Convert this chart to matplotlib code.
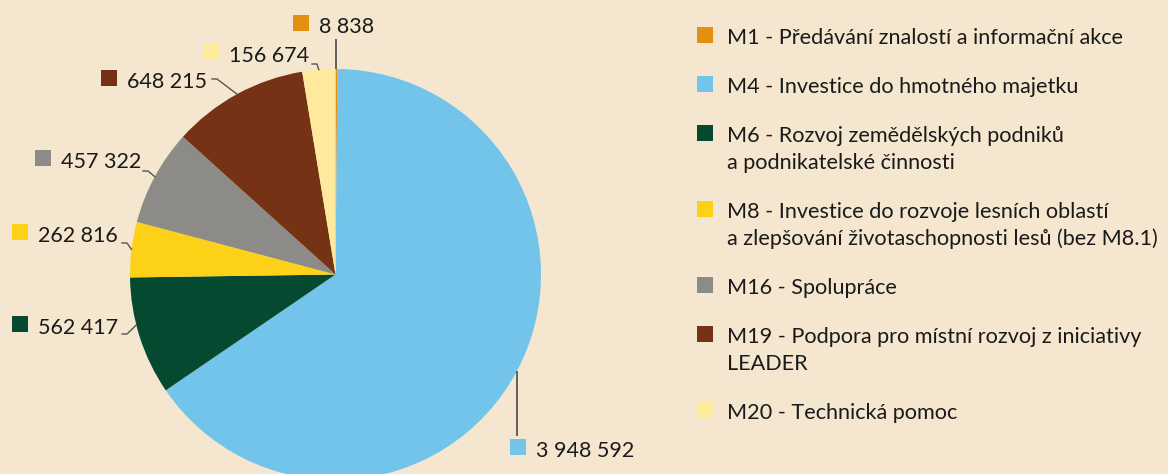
import numpy as np
import matplotlib
matplotlib.use('Agg')
import matplotlib.pyplot as plt
from matplotlib.patches import Rectangle

# data, clockwise from 12 o'clock
codes = ['M1', 'M4', 'M6', 'M8', 'M16', 'M19', 'M20']
names = [
    'Předávání znalostí a informační akce',
    'Investice do hmotného majetku',
    'Rozvoj zemědělských podniků\na podnikatelské činnosti',
    'Investice do rozvoje lesních oblastí\na zlepšování životaschopnosti lesů (bez M8.1)',
    'Spolupráce',
    'Podpora pro místní rozvoj z iniciativy\nLEADER',
    'Technická pomoc',
]
values = [8838, 3948592, 562417, 262816, 457322, 648215, 156674]
colors = ['#E68E0F', '#72C4EA', '#054A30', '#FDD118', '#8C8B87', '#763214', '#FFE99C']

W, H = 1168, 474
BG = '#F5E7CF'
TXT = '#1a1a1a'
LINE = '#555555'

def py(y):
    # pixel row from top -> data y (up)
    return H - y

fig = plt.figure(figsize=(W / 100, H / 100), dpi=100, facecolor=BG)
ax = fig.add_axes([0, 0, 1, 1])
ax.set_facecolor(BG)

cx, cy, r = 335.5, 274.5, 205.5
wedges, _ = ax.pie(values, colors=colors, startangle=90, counterclock=False,
                   center=(cx, py(cy)), radius=r,
                   wedgeprops=dict(linewidth=0))
ax.set_xlim(0, W)
ax.set_ylim(0, H)
ax.set_aspect('equal')
ax.axis('off')

# value labels: square left x, text baseline (px from top)
label_pos = [(293, 33), (510, 457), (12, 334), (12, 241.5), (35, 168), (101, 88), (203, 62)]
# leader lines: ('v', y end) vertical, ('e', x, y) elbow start
leaders = [('v', 39), ('v', 436), ('e', 122, 334), ('e', 122, 243),
           ('e', 143, 171), ('e', 212, 79), ('e', 312, 64)]
anchor_frac = [0.5, 0.5, 0.4, 0.5, 0.5, 0.5, 0.5]

sq = 16
for i, w in enumerate(wedges):
    ang = np.deg2rad(w.theta1 + anchor_frac[i] * (w.theta2 - w.theta1))
    ex = cx + r * np.cos(ang)
    ey = py(cy) + r * np.sin(ang)
    ld = leaders[i]
    if ld[0] == 'v':
        ax.plot([ex, ex], [ey, py(ld[1])], color=LINE, lw=1.3, solid_capstyle='butt')
    else:
        x0, y0 = ld[1], py(ld[2])
        ax.plot([x0, x0 + 5, ex], [y0, y0, ey], color=LINE, lw=1.0)

    x, base = label_pos[i]
    ax.add_patch(Rectangle((x, py(base - 2)), sq, sq, facecolor=colors[i], edgecolor='none'))
    txt = f'{values[i]:,}'.replace(',', ' ')
    ax.text(x + 26, py(base), txt, fontsize=15.5, family='Lato', color=TXT,
            ha='left', va='baseline')

# legend
y = 44
for i in range(len(codes)):
    lines = f'{codes[i]} - {names[i]}'.split('\n')
    ax.add_patch(Rectangle((697, py(y - 1)), sq, sq, facecolor=colors[i], edgecolor='none'))
    for j, ln in enumerate(lines):
        ax.text(727, py(y + 27.5 * j), ln, fontsize=15.6, family='Lato', color=TXT,
                ha='left', va='baseline')
    y += 27.5 * (len(lines) - 1) + 48.8

fig.savefig('out.png', dpi=100, facecolor=BG)
